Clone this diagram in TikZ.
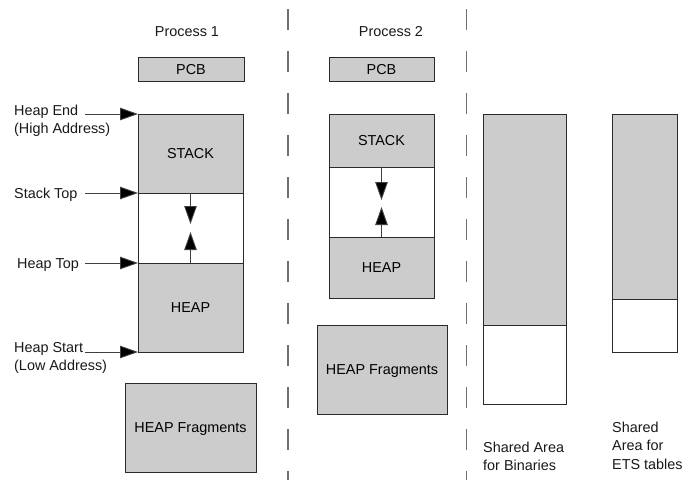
\documentclass[tikz,border=0pt]{standalone}
\usepackage{fontspec}
\setmainfont{Liberation Sans}
\usetikzlibrary{arrows.meta}

\definecolor{areafill}{HTML}{CCCCCC}
\definecolor{areaedge}{HTML}{2A2A2A}
\definecolor{sepline}{HTML}{707070}

\tikzset{
  txt/.style={font=\fontsize{14.4}{18}\selectfont, inner sep=0pt, text=black!90},
  area/.style={draw=areaedge, line width=0.9pt, fill=areafill, inner sep=0pt, outer sep=0pt,
               anchor=north west, text height=10.3pt, text depth=0pt,
               font=\fontsize{14.4}{18}\selectfont},
  freearea/.style={area, fill=white},
  addrptr/.style={draw=black!75, line width=0.9pt, -{Triangle[length=18pt,width=12.5pt,fill=black]}},
  growarrow/.style={draw=black!75, line width=0.9pt, -{Triangle[length=18pt,width=12.5pt,fill=black]}},
  colsep/.style={draw=sepline, line width=1.6pt, dash pattern=on 21pt off 21pt},
}

\begin{document}
\begin{tikzpicture}[x=1pt, y=-1pt]
  \useasboundingbox[fill=white] (0,0) rectangle (693,480);

  % separators between the columns
  \coordinate (s1a) at (288,9);   \coordinate (s1b) at (288,480);
  \coordinate (s2a) at (466.5,9); \coordinate (s2b) at (466.5,480);
  \draw[colsep] (s1a) -- (s1b);
  \draw[colsep] (s2a) -- (s2b);

  % column titles
  \node[txt, anchor=base] (t1) at (187,36) {Process 1};
  \node[txt, anchor=base] (t2) at (391,36) {Process 2};

  % ---- Process 1 ----
  \node[area, minimum width=106pt, minimum height=24pt] (pcb1) at (138,57) {PCB};
  \node[area, minimum width=105pt, minimum height=79pt] (stack1) at (138,114) {STACK};
  \node[freearea, minimum width=105pt, minimum height=70pt] (gap1) at (138,193) {};
  \node[area, minimum width=105pt, minimum height=89pt] (heap1) at (138,263) {HEAP};
  \node[area, minimum width=131pt, minimum height=89pt] (frag1) at (125,383) {HEAP Fragments};

  \coordinate (d1) at (190.5,224);
  \coordinate (u1) at (190.5,232);
  \draw[growarrow] (stack1.south) -- (d1);
  \draw[growarrow] (heap1.north) -- (u1);

  % address labels
  \node[txt, anchor=base west] (lHE)  at (14,115) {Heap End};
  \node[txt, anchor=base west] (lHE2) at (14,133) {(High Address)};
  \node[txt, anchor=base west] (lST)  at (14,198) {Stack Top};
  \node[txt, anchor=base west] (lHT)  at (17,268) {Heap Top};
  \node[txt, anchor=base west] (lHS)  at (14,352) {Heap Start};
  \node[txt, anchor=base west] (lHS2) at (14,370) {(Low Address)};

  \coordinate (pHE) at (85,114);
  \coordinate (pST) at (85,193);
  \coordinate (pHT) at (85,263);
  \coordinate (pHS) at (85,352);
  \draw[addrptr] (pHE) -- (stack1.north west);
  \draw[addrptr] (pST) -- (gap1.north west);
  \draw[addrptr] (pHT) -- (heap1.north west);
  \draw[addrptr] (pHS) -- (heap1.south west);

  % ---- Process 2 ----
  \node[area, minimum width=105pt, minimum height=24pt] (pcb2) at (329,57) {PCB};
  \node[area, minimum width=105pt, minimum height=53pt] (stack2) at (329,114) {STACK};
  \node[freearea, minimum width=105pt, minimum height=70pt] (gap2) at (329,167) {};
  \node[area, minimum width=105pt, minimum height=61pt] (heap2) at (329,237) {HEAP};
  \node[area, minimum width=130pt, minimum height=89pt] (frag2) at (317,325) {HEAP Fragments};

  \coordinate (d2) at (381.5,200);
  \coordinate (u2) at (381.5,207);
  \draw[growarrow] (stack2.south) -- (d2);
  \draw[growarrow] (heap2.north) -- (u2);

  % ---- shared areas ----
  \node[area, minimum width=83pt, minimum height=211pt] (bin) at (483,114) {};
  \node[freearea, minimum width=83pt, minimum height=79pt] (binfree) at (483,325) {};
  \node[area, minimum width=65pt, minimum height=185pt] (ets) at (612,114) {};
  \node[freearea, minimum width=65pt, minimum height=53pt] (etsfree) at (612,299) {};

  \node[txt, anchor=base west] (lb1) at (483,452) {Shared Area};
  \node[txt, anchor=base west] (lb2) at (483,470) {for Binaries};
  \node[txt, anchor=base west] (le1) at (612,432) {Shared};
  \node[txt, anchor=base west] (le2) at (612,450) {Area for};
  \node[txt, anchor=base west] (le3) at (612,469) {ETS tables};
\end{tikzpicture}
\end{document}
